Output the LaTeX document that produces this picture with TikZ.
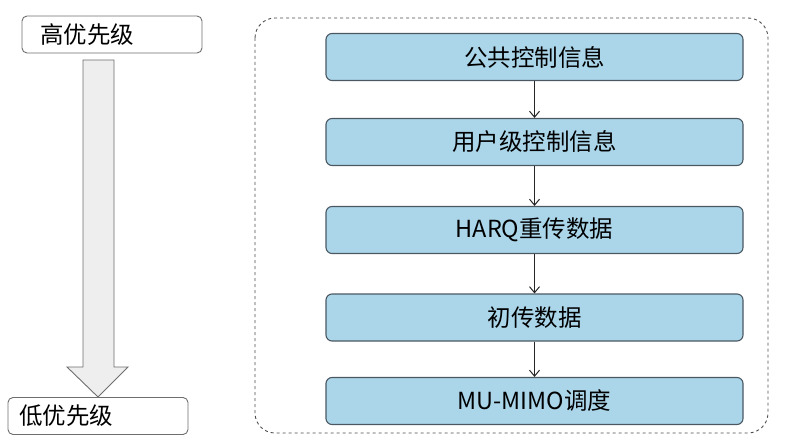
\documentclass[tikz,border=0pt]{standalone}
\usepackage{fontspec}
\newfontfamily\cjk{Noto Sans CJK SC}
\usetikzlibrary{arrows.meta,shapes.arrows}
\definecolor{boxblue}{RGB}{171,214,234}
\definecolor{boxline}{RGB}{75,88,98}
\definecolor{arrfill}{RGB}{238,238,238}
\definecolor{arrline}{RGB}{110,110,110}
\begin{document}
\begin{tikzpicture}[x=1pt,y=-1pt,
  stepbox/.style={draw=boxline,line width=1.1pt,fill=boxblue,rounded corners=6pt,minimum width=417pt,minimum height=47pt,font=\cjk\fontsize{23.5}{27}\selectfont,inner sep=0pt},
  levelbox/.style={draw=arrline,line width=0.9pt,fill=white,rounded corners=5pt,minimum width=180pt,minimum height=37pt,font=\cjk\fontsize{23.5}{27}\selectfont,inner sep=0pt,text width=160pt,align=left},
  link/.style={draw=black!85,line width=1pt,-{Straight Barb[length=6pt,width=10pt]}}]
\useasboundingbox (0,0) rectangle (794,446);
% dashed frame
\draw[dashed,draw=black!70,line width=0.9pt,rounded corners=20pt] (255,18) rectangle (768,433);
% priority boxes
\node[levelbox] (hi) at (112,34.5) {\hspace*{8pt}高优先级};
\node[levelbox] (lo) at (98,416) {\hspace*{1pt}低优先级};
% big arrow
\draw[draw=arrline,fill=arrfill,line width=0.9pt] (83,60) -- (114,60) -- (114,367) -- (128,367) -- (98,397) -- (67,367) -- (83,367) -- cycle;
% steps
\node[stepbox] (s1) at (534.5,57) {公共控制信息};
\node[stepbox] (s2) at (534.5,142) {用户级控制信息};
\node[stepbox] (s3) at (534.5,230) {HARQ重传数据};
\node[stepbox] (s4) at (534.5,317.5) {初传数据};
\node[stepbox] (s5) at (534.5,401) {MU-MIMO调度};
\draw[link] (s1) -- (s2);
\draw[link] (s2) -- (s3);
\draw[link] (s3) -- (s4);
\draw[link] (s4) -- (s5);
\end{tikzpicture}
\end{document}
